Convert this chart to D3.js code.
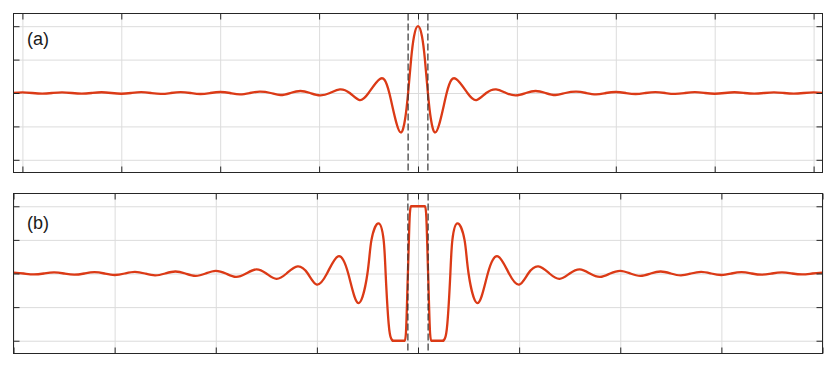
<!DOCTYPE html>
<head>
  <meta charset="utf-8">
  <script src="https://d3js.org/d3.v7.min.js"></script>
  <style>
    body {
      font-family: "Liberation Sans", Arial, sans-serif;
      margin: 0;
      background: #fff;
    }
  </style>
</head>

<body>
<div id="vis"></div>

<script>
// tick positions (no tick labels on this figure)
const xTicks = [-4, -3, -2, -1, 0, 1, 2, 3, 4];
const yTicks = [-1, -0.5, 0, 0.5, 1];
// dashed marker positions
const markers = [-0.1, 0.1];
const panelLabels = ['(a)', '(b)'];

// (a) response, [x, value]
const seriesA = [
  [-4.1, 0], [-4.0, 0.009], [-3.9, 0], [-3.8, -0.009], [-3.7, 0], [-3.6, 0.01], [-3.5, 0],
  [-3.4, -0.01], [-3.3, 0], [-3.2, 0.011], [-3.1, 0], [-3.0, -0.011], [-2.9, 0], [-2.8, 0.012],
  [-2.7, 0], [-2.6, -0.013], [-2.5, 0], [-2.4, 0.013], [-2.3, 0], [-2.2, -0.015], [-2.1, 0],
  [-2.0, 0.015], [-1.9, 0], [-1.8, -0.02], [-1.7, 0], [-1.6, 0.02], [-1.49, 0], [-1.39, -0.03],
  [-1.29, 0], [-1.19, 0.03], [-1.09, 0], [-0.99, -0.035], [-0.89, 0], [-0.79, 0.055], [-0.69, 0],
  [-0.59, -0.105], [-0.5, 0], [-0.385, 0.21], [-0.29, 0], [-0.175, -0.59], [-0.1, 0],
  [-0.07, 0.5], [-0.04, 0.85], [0, 1],
  [0.04, 0.85], [0.07, 0.5], [0.1, 0], [0.175, -0.59], [0.29, 0], [0.385, 0.21], [0.5, 0],
  [0.59, -0.105], [0.69, 0], [0.79, 0.055], [0.89, 0], [0.99, -0.035], [1.09, 0], [1.19, 0.03],
  [1.29, 0], [1.39, -0.03], [1.49, 0], [1.6, 0.02], [1.7, 0], [1.8, -0.02], [1.9, 0], [2.0, 0.015],
  [2.1, 0], [2.2, -0.015], [2.3, 0], [2.4, 0.013], [2.5, 0], [2.6, -0.013], [2.7, 0], [2.8, 0.012],
  [2.9, 0], [3.0, -0.011], [3.1, 0], [3.2, 0.011], [3.3, 0], [3.4, -0.01], [3.5, 0], [3.6, 0.01],
  [3.7, 0], [3.8, -0.009], [3.9, 0], [4.0, 0.009], [4.1, 0]
];

// (b) clipped response
const seriesB = [
  [-4.0, 0.012], [-3.9, 0], [-3.8, -0.014], [-3.7, 0], [-3.6, 0.016], [-3.5, 0], [-3.4, -0.018],
  [-3.3, 0], [-3.2, 0.02], [-3.1, 0], [-3.0, -0.022], [-2.9, 0], [-2.8, 0.025], [-2.7, 0],
  [-2.6, -0.028], [-2.5, 0], [-2.4, 0.03], [-2.3, 0], [-2.2, -0.035], [-2.1, 0], [-2.0, 0.04],
  [-1.9, 0], [-1.8, -0.05], [-1.7, 0], [-1.6, 0.06], [-1.5, 0], [-1.4, -0.08], [-1.3, 0],
  [-1.19, 0.105], [-1.09, 0], [-1.0, -0.165], [-0.9, 0], [-0.79, 0.255], [-0.69, 0],
  [-0.59, -0.44], [-0.5, 0], [-0.46, 0.5], [-0.39, 0.745], [-0.34, 0.5], [-0.32, 0],
  [-0.29, -0.75], [-0.265, -0.97], [-0.25, -1], [-0.13, -1],
  [-0.12, -0.9], [-0.1, 0], [-0.08, 0.9], [-0.07, 1], [0, 1],
  [0.07, 1], [0.08, 0.9], [0.1, 0], [0.12, -0.9], [0.13, -1], [0.25, -1], [0.265, -0.97],
  [0.29, -0.75],
  [0.32, 0], [0.34, 0.5], [0.39, 0.745], [0.46, 0.5], [0.5, 0], [0.59, -0.44], [0.69, 0],
  [0.79, 0.255], [0.9, 0], [1.0, -0.165], [1.09, 0], [1.19, 0.105], [1.3, 0], [1.4, -0.08],
  [1.5, 0], [1.6, 0.06], [1.7, 0], [1.8, -0.05], [1.9, 0], [2.0, 0.04], [2.1, 0], [2.2, -0.035],
  [2.3, 0], [2.4, 0.03], [2.5, 0], [2.6, -0.028], [2.7, 0], [2.8, 0.025], [2.9, 0], [3.0, -0.022],
  [3.1, 0], [3.2, 0.02], [3.3, 0], [3.4, -0.018], [3.5, 0], [3.6, 0.016], [3.7, 0], [3.8, -0.014],
  [3.9, 0], [4.0, 0.012]
];

// x range of the clipped (saturated) part in (b)
const clippedRange = [-0.25, 0.25];

const width = 836;
const height = 366;
const left = 13.5, right = 822.5;
const lineColour = '#db3a16';

const panels = [
  { data: seriesA, label: panelLabels[0], xDomain: [-4.09, 4.09], top: 13.5, bottom: 172.5, labelY: 45, clipped: null },
  { data: seriesB, label: panelLabels[1], xDomain: [-4, 4], top: 193.5, bottom: 353.5, labelY: 229, clipped: clippedRange }
];

const svg = d3.select('#vis')
  .append('svg')
  .attr('width', width)
  .attr('height', height);

panels.forEach((p, i) => {
  const x = d3.scaleLinear().domain(p.xDomain).range([left, right]);
  const y = d3.scaleLinear().domain([-1.19, 1.19]).range([p.bottom, p.top]);
  const h = p.bottom - p.top;
  const w = right - left;
  const g = svg.append('g');

  // grid
  const gx = g.append('g')
    .attr('transform', `translate(0,${p.bottom})`)
    .call(d3.axisBottom(x).tickValues(xTicks).tickSize(-h).tickFormat(''));
  const gy = g.append('g')
    .attr('transform', `translate(${left},0)`)
    .call(d3.axisLeft(y).tickValues(yTicks).tickSize(-w).tickFormat(''));
  [gx, gy].forEach(a => {
    a.select('.domain').remove();
    a.selectAll('line').attr('stroke', '#dcdcdc').attr('stroke-width', 1);
  });

  // curve
  g.append('clipPath').attr('id', 'clip' + i)
    .append('rect').attr('x', left).attr('y', p.top).attr('width', w).attr('height', h);

  // smooth spline for the ringing, monotone for the saturated middle
  let pieces;
  if (p.clipped) {
    const [c0, c1] = p.clipped;
    pieces = [
      [p.data.filter(d => d[0] <= c0), d3.curveNatural],
      [p.data.filter(d => d[0] >= c0 && d[0] <= c1), d3.curveMonotoneX],
      [p.data.filter(d => d[0] >= c1), d3.curveNatural]
    ];
  } else {
    pieces = [[p.data, d3.curveNatural]];
  }

  pieces.forEach(([pts, curve]) => {
    const line = d3.line()
      .x(d => x(d[0]))
      .y(d => y(d[1]))
      .curve(curve);

    g.append('path')
      .datum(pts)
      .attr('clip-path', `url(#clip${i})`)
      .attr('fill', 'none')
      .attr('stroke', lineColour)
      .attr('stroke-width', 2.3)
      .attr('stroke-linejoin', 'round')
      .attr('stroke-linecap', 'round')
      .attr('d', line);
  });

  // dashed markers
  g.selectAll('.marker')
    .data(markers)
    .enter()
    .append('line')
    .attr('x1', d => x(d)).attr('x2', d => x(d))
    .attr('y1', p.top).attr('y2', p.bottom)
    .attr('stroke', '#333')
    .attr('stroke-width', 1.2)
    .attr('stroke-dasharray', '7,3');

  // inward ticks on all four sides
  const tick = 6;
  const axes = [
    [d3.axisBottom(x).tickValues(xTicks), `translate(0,${p.bottom})`],
    [d3.axisTop(x).tickValues(xTicks), `translate(0,${p.top})`],
    [d3.axisLeft(y).tickValues(yTicks), `translate(${left},0)`],
    [d3.axisRight(y).tickValues(yTicks), `translate(${right},0)`]
  ];
  axes.forEach(([ax, tr]) => {
    const a = g.append('g')
      .attr('transform', tr)
      .call(ax.tickSize(-tick).tickFormat(''));
    a.select('.domain').remove();
    a.selectAll('line').attr('stroke', '#262626').attr('stroke-width', 1);
  });

  // frame
  g.append('rect')
    .attr('x', left).attr('y', p.top)
    .attr('width', w).attr('height', h)
    .attr('fill', 'none')
    .attr('stroke', '#262626')
    .attr('stroke-width', 1);

  g.append('text')
    .attr('x', 27)
    .attr('y', p.labelY)
    .style('font-size', '18px')
    .attr('fill', '#1a1a1a')
    .text(p.label);
});
</script>
</body>
